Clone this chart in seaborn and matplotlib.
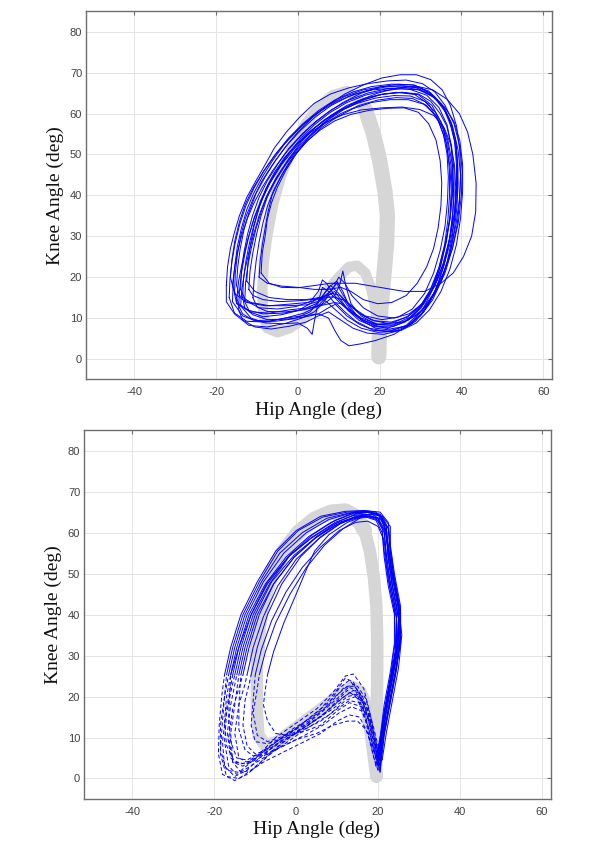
import matplotlib
matplotlib.use("Agg")
import matplotlib.pyplot as plt
import pandas as pd
import seaborn as sns

# ---------------- axis setup ----------------
HIP_TICKS = [-40, -20, 0, 20, 40, 60]
KNEE_TICKS = [0, 10, 20, 30, 40, 50, 60, 70, 80]
HIP_LIM = (-51.9, 62.2)
KNEE_LIM = (-5, 85)
HIP_LABEL = "Hip Angle (deg)"
KNEE_LABEL = "Knee Angle (deg)"

# ---------------- normative band (gray) ----------------
band_top = [(19.8, 0.5), (19.5, 6), (19, 12), (18, 17), (16.5, 21), (14.5, 22.8), (12.5, 22.5),
            (10, 20), (7, 16.5), (4, 12.5), (1, 9.5), (-2, 7.5), (-5, 6.5), (-7.5, 7.5), (-8.5, 11),
            (-8.7, 17), (-8.3, 24), (-7.5, 30), (-6, 38), (-4, 45), (-1.5, 51.5), (1.5, 57),
            (5, 61.5), (8.5, 64.5), (12, 65.5), (14.5, 64), (16.5, 61), (18.5, 55), (20, 48.5),
            (21.3, 41), (21.9, 35), (21.7, 28), (21, 20), (20.3, 12), (19.9, 5), (19.8, 0.5)]
band_top_wide_from = 26

band_bot = [(19.6, 0.5), (19, 5), (18.2, 11), (17.3, 17), (15.8, 21), (13.8, 22.3), (11, 21),
            (7.5, 18), (3.5, 15), (-0.5, 12), (-4.5, 9), (-7.5, 8), (-9.2, 10.5), (-9.6, 16),
            (-9.6, 23), (-9.6, 30), (-9.2, 37), (-8, 44), (-6, 50), (-3, 55.5), (0.5, 60),
            (4.5, 63.3), (8.5, 65), (12, 65.3), (14.8, 63.8), (16.7, 60.5), (18, 55.5), (19, 49),
            (19.6, 42), (19.8, 34), (19.8, 26), (19.7, 18), (19.6, 10), (19.5, 4), (19.6, 0.5)]
band_bot_wide = (15, 26)

# ---------------- top panel: measured cycles (hip, knee) ----------------
top_c01 = [(-9, 21), (-8.7, 26), (-8, 30), (-7.5, 34), (-6.5, 38), (-5, 42), (-3, 46), (-0.5, 50), (2.5, 54),
           (6, 57.5), (10, 60.5), (14.5, 63), (19.5, 65), (24.5, 66.3), (29, 66.7), (33, 65.8), (36.5, 63.5),
           (39.5, 60), (41.5, 55.5), (42.8, 50), (43.6, 43), (43.5, 36), (42.5, 30), (40.5, 25), (38, 21),
           (35, 18.5), (31, 16.5), (26, 16.5), (20, 17.5), (14, 18.5), (8, 18.5), (3, 17.8), (0, 17.4),
           (-4, 17.5), (-7, 18.5), (-9, 21)]
top_c02 = [(-15, 14), (-14.5, 19), (-13.5, 24), (-12.3, 29), (-10.8, 34), (-9, 38.5), (-6.8, 43), (-4, 47.5),
           (-0.8, 51.5), (2.8, 55.5), (6.5, 58.5), (10.5, 61), (15, 63), (19.5, 64.5), (24, 65.2), (28.5, 64.7),
           (32, 62.3), (34.5, 58), (36.2, 53), (37.2, 47), (37.5, 41), (37.2, 35), (36.3, 29), (35, 23),
           (33, 17), (30.5, 12), (27.5, 8.5), (23.5, 6), (19, 4.5), (15.5, 3.7), (12.5, 3.2), (10.5, 4.5),
           (9, 7), (7.5, 10), (5, 11), (1, 10.5), (-3, 10), (-7, 9.2), (-11, 9.5), (-13.5, 11), (-15, 14)]
top_c03 = [(-16, 18), (-15.5, 22), (-14.8, 26), (-13.8, 30), (-12.5, 34), (-10.8, 38), (-8.7, 42), (-6.2, 46),
           (-3.3, 50), (-0.2, 53.5), (3.3, 57), (7, 60), (11, 62.7), (15.5, 65), (20, 66.5), (24.5, 67.2),
           (28.5, 67), (32.5, 65), (35.5, 61.5), (37.8, 57), (39.2, 51), (39.8, 45), (39.6, 39), (39, 33),
           (37.8, 27), (36, 21), (33.5, 16), (30.5, 12), (27, 9.5), (23, 8.2), (19, 8.5), (15.5, 10.5),
           (13, 13.5), (11.8, 17.5), (11, 21.5), (10.2, 18), (9, 15.5), (6.5, 13.5), (3, 12.5), (-2, 12),
           (-7, 11.2), (-11.5, 11.5), (-14.5, 13.5), (-16, 18)]
top_c04 = [(-14, 13), (-13.7, 17), (-13, 21.5), (-12, 26), (-10.8, 30.5), (-9.5, 35), (-7.8, 39.5), (-5.5, 44),
           (-2.8, 48), (0.3, 52), (3.8, 55.5), (7.5, 58.5), (11.5, 61.2), (16, 63.3), (20.5, 64.7), (25.5, 65.2),
           (29.5, 64.6), (32.8, 62), (35, 58), (36.6, 53), (37.5, 47), (37.7, 41), (37.3, 35), (36.3, 28.5),
           (34.8, 22.5), (32.8, 17), (30.2, 12.5), (27, 9.5), (23.5, 8), (19.5, 8), (16, 9.5), (13, 11.5),
           (10, 14), (7.5, 16.5), (6, 17.5), (5, 14), (4, 9), (3.5, 6), (2.3, 7.5), (0, 8.8), (-4, 8.6),
           (-8, 8.8), (-11.5, 10), (-14, 13)]
top_c05 = [(-9.5, 20), (-9.2, 24), (-8.7, 28), (-8, 32), (-7.3, 36), (-6.3, 40), (-4.5, 44), (-2.5, 47.5),
           (-0.3, 50.5), (2.5, 53.5), (5.5, 56), (9, 58.2), (13, 59.8), (17.5, 60.8), (22, 61.3), (26, 61.4),
           (29.5, 60.3), (32, 57.5), (33.8, 53.5), (34.8, 48.5), (35.2, 43), (35, 37.5), (34.3, 32),
           (33.2, 27), (31.5, 22.5), (29.2, 18.5), (26.5, 15.5), (23, 13.8), (19.5, 13.5), (16, 14.5),
           (13, 16.5), (10.5, 17.5), (7.5, 17), (4, 17), (0, 17.5), (-4, 17.8), (-7.5, 18.5), (-9.5, 20)]
top_c06 = [(-17.5, 18), (-17.2, 22.5), (-16.5, 27), (-15.5, 31), (-14.3, 35), (-12.5, 39.5), (-10.3, 43.5),
           (-8, 47.5), (-5.8, 51.5), (-2.8, 55.5), (0.5, 59.2), (4, 62.5), (8, 64.8), (12.5, 66.3), (17, 67.3),
           (22, 68), (26.5, 68.2), (30.5, 67.3), (33.5, 65.3), (36, 62), (38.2, 57.5), (39.6, 52), (40.2, 46),
           (40, 40), (39.2, 33), (37.8, 27), (35.8, 21.5), (33.2, 16), (30, 11.5), (26.5, 8.2), (22.5, 6.8),
           (18.5, 7), (15, 8.5), (12, 10.5), (9.5, 13), (7.5, 15.5), (6, 13.5), (4, 11.5), (1, 10),
           (-3, 8.7), (-7.5, 7.8), (-12, 8.2), (-15.5, 11), (-17.5, 14), (-17.5, 18)]
top_c07 = [(-15.5, 16), (-15.3, 21), (-14.8, 25.5), (-14, 30), (-12.8, 34.5), (-11, 39), (-8.8, 43.5),
           (-6.2, 47.5), (-3.3, 51.5), (0, 55.5), (3.5, 59), (7.3, 62), (11.5, 64.8), (16, 67), (20.5, 68.7),
           (25, 69.5), (29, 69.5), (32.5, 68.3), (35.3, 65.8), (37.3, 62), (38.8, 57), (39.6, 51), (39.8, 45),
           (39.5, 39), (38.7, 33), (37.5, 27), (35.7, 21), (33.2, 15.5), (30.2, 11), (26.8, 8.2), (23, 7),
           (19, 7.5), (15.5, 9.5), (12.5, 12.5), (10, 16), (8, 18), (6.5, 16), (4.5, 13.5), (1, 12),
           (-3.5, 11.2), (-8.5, 11), (-12.5, 12), (-15, 13.5), (-15.5, 16)]
top_c08 = [(-13, 14), (-12.8, 18.5), (-12.2, 23), (-11.3, 27.5), (-10.2, 32), (-8.8, 36.5), (-7, 41),
           (-4.8, 45), (-2.2, 49), (0.8, 53), (4.2, 56.5), (8, 59.5), (12, 62), (16.5, 63.8), (21, 64.8),
           (25.5, 65.2), (29.5, 64.8), (32.5, 63), (34.8, 60), (36.4, 57), (37.6, 52), (38.2, 46), (38.2, 40),
           (37.8, 34), (36.9, 28), (35.5, 22), (33.5, 16.5), (30.8, 11.5), (27.5, 8.3), (23.5, 6.7),
           (19.5, 6.5), (15.5, 7.5), (12, 9.5), (9.2, 12), (7, 14), (5, 15), (3, 13.5), (0, 11.8),
           (-4, 10.8), (-8.5, 10.3), (-11.8, 11.5), (-13, 14)]
top_c09 = [(-16.5, 20), (-16.1, 24.5), (-15.4, 29), (-14.3, 33.5), (-12.8, 38), (-10.8, 42), (-8.3, 46),
           (-5.5, 50), (-2.3, 54), (1.2, 57.5), (5, 60.7), (9, 63.3), (13.5, 65.3), (18, 66.6), (23, 67.2),
           (28, 67), (32, 65.5), (35, 62.5), (37, 58.5), (38.3, 53.5), (38.8, 47.5), (38.8, 41.5), (38.2, 35),
           (37, 29), (35.5, 23), (33.2, 17.5), (30.2, 13), (26.8, 10.2), (22.8, 9), (18.8, 9.3), (15.2, 11),
           (12.2, 13.8), (10.5, 16.5), (9.5, 18.5), (8, 16.5), (5.5, 14.2), (2, 13.2), (-3, 13), (-8, 13),
           (-12.5, 13.8), (-15.5, 16), (-16.5, 20)]
top_c10 = [(-12, 17), (-11.7, 21.5), (-11, 26), (-10.1, 30.5), (-9, 35), (-7.5, 39.5), (-5.5, 43.5),
           (-3, 47.5), (-0.2, 51), (3, 54.5), (6.5, 57.5), (10.5, 60), (15, 62), (19.5, 63.3), (24, 63.9),
           (28, 63.7), (31.5, 62), (34, 59), (35.6, 55), (36.5, 50), (36.8, 44.5), (36.6, 38.5), (36, 32.5),
           (34.8, 26.5), (33.2, 21), (31, 16), (28, 12.2), (24.5, 10.2), (20.5, 9.6), (16.5, 10.5),
           (13.5, 12.5), (11.5, 14.3), (8.5, 15.2), (4.5, 14.6), (0, 14.2), (-4.5, 14), (-8.5, 14.5),
           (-11, 15.5), (-12, 17)]
top_c11 = [(-14.5, 12), (-14.3, 16.5), (-13.8, 21), (-13, 25.5), (-12, 30), (-10.7, 34.5), (-9, 39),
           (-6.8, 43.5), (-4.2, 47.5), (-1.2, 51.5), (2.2, 55), (6, 58), (10, 60.5), (14.5, 62.5), (19, 63.8),
           (23.5, 64.4), (27.5, 64.3), (31, 63), (33.5, 60.5), (35.5, 57), (36.7, 53.5), (37.7, 48), (38.1, 42),
           (37.9, 36), (37.2, 30), (36, 24), (34.2, 18), (31.8, 13), (28.8, 9.2), (25.2, 7), (21, 6), (17, 6.3),
           (13.5, 7.5), (10.5, 9.5), (7.5, 11.5), (5, 10.5), (2, 9), (-2, 8), (-6.5, 7.3), (-10.5, 7.8),
           (-13.5, 9.5), (-14.5, 12)]
top_c12 = [(-15, 18), (-14.7, 22.5), (-14.1, 27), (-13.2, 31.5), (-11.9, 36), (-10.2, 40.5), (-8, 44.5),
           (-5.5, 48.5), (-2.5, 52.5), (0.8, 56), (4.3, 59.2), (8.2, 62), (12.5, 64.2), (17, 65.7), (21.5, 66.5),
           (26, 66.8), (30, 66.2), (33.3, 64.3), (35.9, 61.3), (37.6, 57.5), (38.7, 52.5), (39.1, 46.5),
           (39, 40.5), (38.4, 34.5), (37.3, 28.5), (35.6, 22.5), (33.3, 17.5), (30.5, 13.5), (27.2, 11),
           (23.5, 10), (19.5, 10.5), (16, 12.5), (13.2, 15.5), (11.5, 18.5), (10, 20), (8.5, 17), (6, 15),
           (2.5, 13.8), (-2, 13.4), (-7, 13), (-11.5, 13.8), (-14.3, 15.5), (-15, 18)]
top_c13 = [(-11, 15), (-10.7, 19.5), (-10.2, 24), (-9.5, 28.5), (-8.6, 33), (-7.4, 37.5), (-5.8, 41.5),
           (-3.6, 45.5), (-1, 49.5), (2, 53), (5.5, 56.3), (9.3, 59), (13.5, 61.2), (18, 62.7), (22.5, 63.4),
           (27, 63.4), (30.8, 62.3), (33.8, 59.5), (35.6, 56), (36.5, 52), (37.1, 46), (37.1, 40), (36.7, 34),
           (35.9, 28), (34.6, 22.5), (32.8, 17.5), (30.3, 13.5), (27, 10.5), (23.2, 8.8), (19.3, 8.4),
           (15.6, 9.5), (12.7, 11.6), (10.5, 13.5), (9, 13.8), (5.5, 13), (1.5, 12), (-3, 11.5), (-7.5, 11.6),
           (-10, 12.7), (-11, 15)]
top_c14 = [(-16, 14), (-15.8, 18.5), (-15.4, 23), (-14.8, 27.5), (-13.8, 32), (-12.5, 36.5), (-10.8, 40.5),
           (-8.7, 44.5), (-6.2, 48.5), (-3.3, 52.5), (0, 56), (3.5, 59.2), (7.3, 62), (11.5, 64.2), (16, 65.8),
           (20.5, 66.6), (25, 66.8), (29, 66.3), (32.5, 64.6), (35.5, 61.7), (37.4, 58), (38.6, 53.5),
           (39.1, 48), (39.2, 43), (38.9, 37), (38.2, 31), (37, 25), (35.3, 19.5), (33, 14.5), (30, 10.5),
           (26.5, 8), (22.5, 7.3), (18.5, 8.2), (15, 10), (12.5, 13), (11, 16.5), (9.5, 19), (7.5, 17.5),
           (5.5, 14.5), (3, 11.5), (-1, 9.8), (-5.5, 9.2), (-10, 9.2), (-13.5, 10.5), (-16, 14)]
top_c15 = [(-14, 17), (-13.8, 21.5), (-13.2, 26), (-12.3, 30.5), (-11.1, 35), (-9.5, 39.5), (-7.5, 43.5),
           (-5, 47.5), (-2.2, 51.5), (1, 55), (4.5, 58.2), (8.3, 61), (12.5, 63.3), (17, 65), (21.5, 66),
           (26, 66.4), (30, 65.8), (33.5, 63.8), (36, 60.5), (37.6, 56.5), (38.6, 52), (39, 47.5), (38.9, 41.5),
           (38.3, 35.5), (37.2, 29.5), (35.6, 23.5), (33.5, 18), (30.8, 13.5), (27.5, 10.2), (23.5, 8.5),
           (19.5, 8.5), (15.5, 10), (12, 12.5), (9, 15.5), (7, 18.5), (6, 19.3), (5, 16.5), (3, 14),
           (-0.5, 12.8), (-5, 12.2), (-9.5, 12.5), (-12.8, 14.3), (-14, 17)]
top_c16 = [(-13.5, 15), (-13.3, 19.5), (-12.7, 24), (-11.8, 28.5), (-10.7, 33), (-9.3, 37.5), (-7.5, 42),
           (-5.2, 46), (-2.5, 50), (0.6, 53.8), (4, 57.2), (7.8, 60.2), (12, 62.7), (16.5, 64.5), (21, 65.6),
           (25.5, 66.1), (29.5, 65.8), (33, 64.2), (36, 61.5), (38.2, 58), (39.6, 53.5), (40.3, 47.5),
           (40.3, 41), (39.8, 34.5), (38.8, 28), (37.2, 22), (35, 16.5), (32.2, 12), (29, 8.8), (25.3, 7),
           (21.3, 6.7), (17.5, 7.5), (14.2, 9.2), (11.5, 11.5), (9.5, 13.5), (7.5, 12.5), (5, 11), (1.5, 10.2),
           (-3, 9.7), (-7.5, 9.6), (-11, 10.8), (-13, 12.5), (-13.5, 15)]
top_c17 = [(-16.8, 15), (-16.6, 19.5), (-16.1, 24), (-15.3, 28.5), (-14.2, 33), (-12.7, 37.5), (-10.7, 41.8),
           (-8.3, 46), (-5.5, 50), (-2.3, 53.8), (1.2, 57.3), (5, 60.3), (9.2, 62.8), (13.7, 64.7), (18.3, 65.8),
           (23, 66.2), (27.5, 65.9), (31.5, 64.5), (34.5, 61.5), (36.5, 57.2), (37.5, 52), (37.9, 46),
           (37.8, 40), (37.2, 34), (36, 28), (34.4, 22), (32.2, 16.5), (29.5, 12), (26.2, 9), (22.5, 7.7),
           (18.5, 7.9), (15, 9.4), (12.3, 11.8), (10.5, 14.5), (9, 16.5), (7.3, 15.5), (5, 13), (1.5, 11.2),
           (-3, 10), (-8, 9), (-12.5, 9.2), (-15.5, 11.2), (-16.8, 15)]
top_c18 = [(-12.5, 19), (-12.2, 23.5), (-11.6, 28), (-10.7, 32.5), (-9.5, 37), (-7.9, 41.5), (-5.8, 45.5),
           (-3.3, 49.2), (-0.3, 52.5), (3, 55.3), (6.8, 57.8), (11, 59.7), (15.5, 60.9), (20.5, 61.4),
           (25.5, 61.6), (29.8, 61), (33.3, 59.5), (35.8, 56.5), (37.4, 52.5), (38.3, 47.5), (38.6, 42),
           (38.4, 36), (37.8, 30), (36.6, 24), (34.8, 18.5), (32.3, 14), (29.2, 10.8), (25.7, 9), (21.8, 8.7),
           (18, 9.5), (14.8, 11.3), (12.5, 13.2), (10.5, 15.5), (8.5, 16), (5.5, 15), (2, 14.5), (-2.5, 14.5),
           (-7, 15), (-10.5, 16.5), (-12.5, 19)]
TOP_CYCLES = [top_c01, top_c02, top_c03, top_c04, top_c05, top_c06, top_c07, top_c08, top_c09,
              top_c10, top_c11, top_c12, top_c13, top_c14, top_c15, top_c16, top_c17, top_c18]

# ---------------- bottom panel: solid (swing) and dashed (stance) parts ----------------
bot_s01 = [(-16.5, 25.3), (-15, 32), (-12.5, 40), (-8.5, 48), (-4, 55), (1.5, 60), (7.5, 63.5), (13, 64.8),
           (17.5, 65.2), (20.5, 64.5), (22, 61.5), (22.5, 56), (23.5, 49), (25, 41), (25, 34), (24, 27),
           (22.5, 19), (21, 11), (20, 4)]
bot_d01 = [(19, 8), (17.5, 15), (15.5, 21), (13, 24), (10.5, 22), (7, 17), (3, 14), (-2, 11), (-7, 7.5),
           (-11, 4), (-14, 1.5), (-17, 2), (-18.5, 7), (-18, 14), (-17.5, 20), (-16.5, 25.3)]
bot_s02 = [(-15, 25.3), (-13.5, 32), (-11, 40), (-7, 48), (-1.5, 54.5), (4, 59), (9.5, 62.5), (14, 64.2),
           (17, 64.5), (20, 63.5), (21.5, 60.5), (22, 55), (23, 48), (24.5, 40), (24.5, 33), (23.5, 26),
           (22, 18), (20.5, 10), (19.5, 3)]
bot_d02 = [(18.5, 7), (17, 14), (15, 19.5), (12.5, 21.5), (10, 19), (6.5, 15.5), (2, 12.5), (-3, 9),
           (-8, 5), (-12, 2.5), (-14.5, 1), (-16.5, 3), (-17.5, 9), (-17, 16), (-16, 21), (-15, 25.3)]
bot_s03 = [(-13, 25.3), (-11.5, 32), (-9, 40), (-5.5, 47.5), (-0.5, 54), (5, 59), (10, 62.5), (14.5, 64.5),
           (18, 65), (21, 64), (22.5, 61), (23, 55.5), (24, 48), (25.5, 40), (25.5, 33), (24, 25),
           (22.5, 17), (21, 9), (20.5, 2)]
bot_d03 = [(19.5, 6), (18, 13), (16, 20), (14, 23), (11.5, 22), (8, 18), (4, 15), (-1, 12), (-6, 8),
           (-10, 5), (-13, 3), (-15.5, 4), (-16.5, 10), (-15.5, 17), (-14, 22), (-13, 25.3)]
bot_s04 = [(-11, 25.3), (-9.5, 32), (-7, 40), (-3.5, 47.5), (1, 54), (6, 59), (11, 62.5), (15, 64),
           (18.5, 64.5), (21, 63), (22, 60), (22.5, 54), (23.5, 47), (25, 39), (24.5, 31), (23, 24),
           (21.5, 16), (20.5, 9), (20, 5)]
bot_d04 = [(19, 9), (17.5, 15), (15.5, 18.5), (13, 19), (10, 17), (6, 14), (2, 12), (-3, 9.5), (-7, 7),
           (-10, 6), (-12, 8), (-13, 13), (-12.5, 19), (-11.5, 23), (-11, 25.3)]
bot_s05 = [(-7, 25.3), (-5.5, 31), (-3, 38), (0, 45), (2.5, 51), (4.5, 55.5), (8, 59.5), (12.5, 62.5),
           (16.5, 64), (20, 63.5), (22, 60), (22.5, 54), (23.5, 47), (25, 39), (24.8, 32), (23.5, 25),
           (22, 17), (21, 10), (20.5, 4)]
bot_d05 = [(19.5, 8), (18, 14), (16, 17.5), (13, 18.5), (10, 16.5), (6, 13), (2, 11.5), (-2, 10.5),
           (-5, 11), (-7, 14), (-8, 18), (-7.5, 22), (-7, 25.3)]
bot_s06 = [(-17, 25.3), (-15.5, 32), (-13, 40), (-9, 48), (-4.5, 55.5), (0.5, 60.5), (6.5, 63.8), (12.5, 65),
           (17, 65.3), (20, 64.5), (21.5, 61.5), (22.5, 56), (23.5, 49), (25, 42), (25.5, 35), (24.5, 27),
           (23, 19), (21.5, 11), (20.5, 3)]
bot_d06 = [(19.5, 7), (18.5, 13), (17, 18), (14.5, 20), (12, 19), (8, 15.5), (3, 12.5), (-2, 9),
           (-7, 5.5), (-11, 2), (-14, 0), (-17, 0.5), (-18.5, 6), (-18.5, 13), (-17.5, 20), (-17, 25.3)]
bot_s07 = [(-14, 25.3), (-12.5, 32), (-10, 40), (-6, 48), (-0.5, 54.5), (5, 59), (10, 62), (14.5, 63.5),
           (17.5, 64), (20, 63), (21.5, 60), (22, 54.5), (23, 47.5), (24.5, 40), (24.5, 32), (23, 24),
           (21.5, 16), (20.5, 8), (20, 2)]
bot_d07 = [(19, 5), (17.5, 11), (15.5, 15), (13, 15.5), (10, 14), (6, 11), (2, 9), (-3, 6.5), (-8, 4),
           (-11, 2), (-13.5, 1.5), (-15.5, 4), (-16, 11), (-15, 18), (-14, 25.3)]
bot_s08 = [(-12, 25.3), (-10.5, 32), (-8, 39.5), (-4.5, 47), (0, 53.5), (5.5, 58.5), (10.5, 62), (14.5, 64),
           (18, 64.5), (21, 64), (23, 61.5), (23, 56), (24, 49), (25.5, 41), (25.5, 34), (24.5, 27),
           (23, 19), (21.5, 11), (20.5, 5)]
bot_d08 = [(19.5, 9), (18, 16), (16.5, 22), (14, 25.5), (12, 25), (9, 21), (5, 17), (0, 13.5), (-5, 10),
           (-9, 6), (-12, 4), (-14, 5), (-15, 11), (-14, 18), (-12.5, 23), (-12, 25.3)]
bot_s09 = [(-16, 25.3), (-14, 32), (-11, 40), (-7, 47.5), (-2, 54), (3.5, 58.5), (9, 62), (13.5, 63.5),
           (16.5, 64), (19.5, 63), (21, 60), (21.5, 54), (22.5, 47), (24, 40), (24, 33), (23, 26),
           (21.5, 18), (20.5, 10), (19.5, 5)]
bot_d09 = [(18.5, 8), (17, 12), (15, 14), (12.5, 14), (9, 13), (5, 11), (0, 9.5), (-5, 7), (-9, 5),
           (-12, 3.5), (-15, 4), (-17, 8), (-17.5, 14), (-17, 20), (-16, 25.3)]
bot_s10 = [(-10, 25.3), (-8.5, 31.5), (-6, 38.5), (-2.5, 45.5), (1.5, 51.5), (6, 56.5), (10.5, 60.5),
           (14.5, 62.5), (17.5, 62.8), (20, 61.5), (21.5, 58), (22, 53), (23, 46), (24.5, 39), (24.2, 31),
           (23, 24), (21.5, 16), (20.5, 9), (20, 6)]
bot_d10 = [(19, 10), (17.5, 16), (15.5, 20), (13, 21), (10, 18.5), (6, 15), (2, 12.5), (-3, 10),
           (-7, 8.5), (-10, 9), (-11, 13), (-10.5, 19), (-10, 25.3)]
bot_s11 = [(-15.5, 25.3), (-14, 32), (-11.5, 40), (-7.5, 47.5), (-2.5, 54), (3, 59), (8.5, 62.5),
           (13.5, 64.5), (17, 65), (20.5, 64.2), (22.5, 61), (23, 55), (24, 48), (25.5, 40), (25, 32),
           (23.5, 24), (22, 16), (21, 9), (20, 3.5)]
bot_d11 = [(19, 7), (17.5, 13), (16, 19), (14, 23.5), (12, 24.5), (9.5, 21), (6, 17), (1, 13), (-4, 9),
           (-9, 5), (-12, 2), (-15, 0.5), (-17.5, 3), (-18, 9), (-17, 17), (-15.5, 25.3)]
bot_s12 = [(-9, 25.3), (-7.5, 31), (-5, 38), (-1.5, 45), (2.5, 51.5), (7, 57), (11.5, 61), (15.5, 63.5),
           (18.5, 64), (21, 63), (22, 60), (22.5, 54), (23.5, 47), (25, 40), (24.8, 32.5), (23.5, 25),
           (22, 17), (21, 10), (20.5, 3)]
bot_d12 = [(19.5, 7), (18.5, 13), (17, 18), (15, 20.5), (12.5, 20), (9, 17), (5, 14.5), (0, 12),
           (-4, 10), (-7, 9), (-9.5, 10.5), (-10.5, 16), (-9.5, 22), (-9, 25.3)]
bot_s13 = [(-17.5, 25.3), (-16, 32), (-13.5, 40), (-9.5, 48), (-5, 55.5), (0, 60.5), (6, 64), (12, 65.2),
           (16.5, 65.4), (19.5, 65), (21.5, 62.5), (22.5, 57), (23.5, 50), (25, 42.5), (25.8, 35), (25, 27),
           (23.5, 19), (22, 11), (21, 4.5)]
bot_d13 = [(20, 8), (18.5, 14), (17, 19.5), (15, 22.5), (13, 22.5), (10, 19.5), (6, 16), (1.5, 12.5),
           (-3.5, 8.5), (-8.5, 4), (-12, 1), (-15, -0.5), (-18, 1), (-19, 6), (-18.8, 13), (-18.2, 20),
           (-17.5, 25.3)]
bot_s14 = [(-13.5, 25.3), (-12, 32), (-9.5, 40), (-5.5, 47.5), (-0.5, 54), (4.5, 58.5), (9.5, 61.8),
           (14, 63.6), (17, 64.2), (19.5, 63.5), (21, 61), (21.5, 55.5), (22.5, 48.5), (24, 41), (24.2, 33.5),
           (23.2, 26), (21.8, 18), (20.8, 10), (20, 3)]
bot_d14 = [(19, 6.5), (17.8, 12), (16, 16.5), (13.5, 17.5), (10.5, 16), (6.5, 13), (2, 10.5), (-3, 8),
           (-7.5, 6), (-10.5, 5.5), (-12.5, 7), (-14, 12), (-14, 18), (-13.5, 25.3)]
bot_s15 = [(-16, 25.3), (-14.5, 32), (-12, 40), (-8, 48), (-3, 55), (2.5, 60), (8, 63.2), (13.5, 64.8),
           (17.5, 65.3), (20.5, 65), (22.5, 62.5), (23, 57), (24, 50), (25.5, 42), (25.5, 34), (24.5, 26.5),
           (23, 18.5), (21.5, 10.5), (20.5, 1.5)]
bot_d15 = [(19.5, 5), (18, 11), (16.3, 17), (14.5, 21.5), (12.5, 22.5), (9.5, 20), (5.5, 16.5), (1, 13),
           (-4, 9.5), (-8.5, 6.5), (-12, 4.5), (-14.5, 5), (-16, 9), (-16.5, 15), (-16.3, 20), (-16, 25.3)]
bot_s16 = [(-14.5, 25.3), (-13, 32), (-10.5, 40), (-6.5, 47.5), (-1.5, 54.5), (4, 59.5), (9.5, 63),
           (14, 64.8), (17.5, 65), (20.5, 64.3), (22, 61.5), (22.5, 56.5), (23.5, 49.5), (25, 41.5),
           (25.3, 34), (24.3, 26.5), (22.8, 18.5), (21.2, 10), (20.2, 6)]
bot_d16 = [(19.2, 10), (17.8, 16), (16, 20.5), (14, 21.5), (11, 19.5), (7, 16), (3, 13), (-2, 10),
           (-6.5, 7), (-10.5, 4.5), (-13.5, 3.5), (-16, 5), (-16.8, 11), (-16, 18), (-14.5, 25.3)]
BOT_SOLID = [bot_s01, bot_s02, bot_s03, bot_s04, bot_s05, bot_s06, bot_s07, bot_s08,
             bot_s09, bot_s10, bot_s11, bot_s12, bot_s13, bot_s14, bot_s15, bot_s16]
BOT_DASHED = [bot_d01, bot_d02, bot_d03, bot_d04, bot_d05, bot_d06, bot_d07, bot_d08,
              bot_d09, bot_d10, bot_d11, bot_d12, bot_d13, bot_d14, bot_d15, bot_d16]


def frame(cycles, prefix=None):
    rows = []
    for cid, pts in enumerate(cycles):
        seq = list(pts)
        if prefix is not None:
            seq = [prefix[cid][-1]] + seq
        for i, (h, k) in enumerate(seq):
            rows.append((cid, i, h, k))
    return pd.DataFrame(rows, columns=["cycle", "i", "hip", "knee"])


def band_frame(pts):
    return pd.DataFrame(pts, columns=["hip", "knee"])


sns.set_theme(style="white")
plt.rcParams["font.family"] = ["Liberation Sans", "DejaVu Sans"]
plt.rcParams["axes.unicode_minus"] = False

BLUE = "#0000ff"
GRAY_BAND = "#d6d6d6"
GRID = "#e3e3e3"
SPINE = "#6e6e6e"
TICKC = "#404040"

fig = plt.figure(figsize=(5.95, 8.42), dpi=100)
ax_top = fig.add_axes([0.144, 0.5495, 0.784, 0.437])
ax_bot = fig.add_axes([0.1407, 0.0511, 0.785, 0.438])


def style_axes(ax, xlabel_y):
    ax.set_xlim(*HIP_LIM)
    ax.set_ylim(*KNEE_LIM)
    ax.set_xticks(HIP_TICKS)
    ax.set_yticks(KNEE_TICKS)
    ax.grid(True, color=GRID, linewidth=0.7)
    ax.set_axisbelow(True)
    for s in ax.spines.values():
        s.set_visible(True)
        s.set_color(SPINE)
        s.set_linewidth(1.0)
    ax.tick_params(axis="both", which="both", direction="in", length=3, width=0.8,
                   color=SPINE, top=True, right=True, labelsize=8, labelcolor=TICKC)
    ax.tick_params(axis="x", pad=5.5)
    ax.tick_params(axis="y", pad=2.5)
    ax.set_xlabel(HIP_LABEL, family=["Liberation Serif"], fontsize=14, color="#111111", va="center")
    ax.set_ylabel(KNEE_LABEL, family=["Liberation Serif"], fontsize=14, color="#111111", va="center")
    ax.xaxis.set_label_coords(0.499, xlabel_y)
    ax.yaxis.set_label_coords(-0.066, 0.5)


band_kw = dict(x="hip", y="knee", sort=False, estimator=None, color=GRAY_BAND,
               solid_capstyle="round", solid_joinstyle="round")

# ----- top panel -----
sns.lineplot(data=band_frame(band_top), lw=7.5, ax=ax_top, **band_kw)
sns.lineplot(data=band_frame(band_top[band_top_wide_from:]), lw=11, ax=ax_top, **band_kw)
sns.lineplot(data=frame(TOP_CYCLES), x="hip", y="knee", units="cycle", estimator=None,
             sort=False, color=BLUE, lw=0.7, ax=ax_top, legend=False)
style_axes(ax_top, -0.083)

# ----- bottom panel -----
sns.lineplot(data=band_frame(band_bot), lw=9, ax=ax_bot, **band_kw)
sns.lineplot(data=band_frame(band_bot[band_bot_wide[0]:band_bot_wide[1]]), lw=11, ax=ax_bot, **band_kw)
sns.lineplot(data=frame(BOT_SOLID), x="hip", y="knee", units="cycle", estimator=None,
             sort=False, color=BLUE, lw=0.7, ax=ax_bot, legend=False)
n_before = len(ax_bot.lines)
sns.lineplot(data=frame(BOT_DASHED, prefix=BOT_SOLID), x="hip", y="knee", units="cycle",
             estimator=None, sort=False, color=BLUE, lw=0.7, ax=ax_bot, legend=False)
for ln in ax_bot.lines[n_before:]:
    ln.set_dashes([4, 2.5])
style_axes(ax_bot, -0.081)

fig.savefig("out.png", dpi=100)
